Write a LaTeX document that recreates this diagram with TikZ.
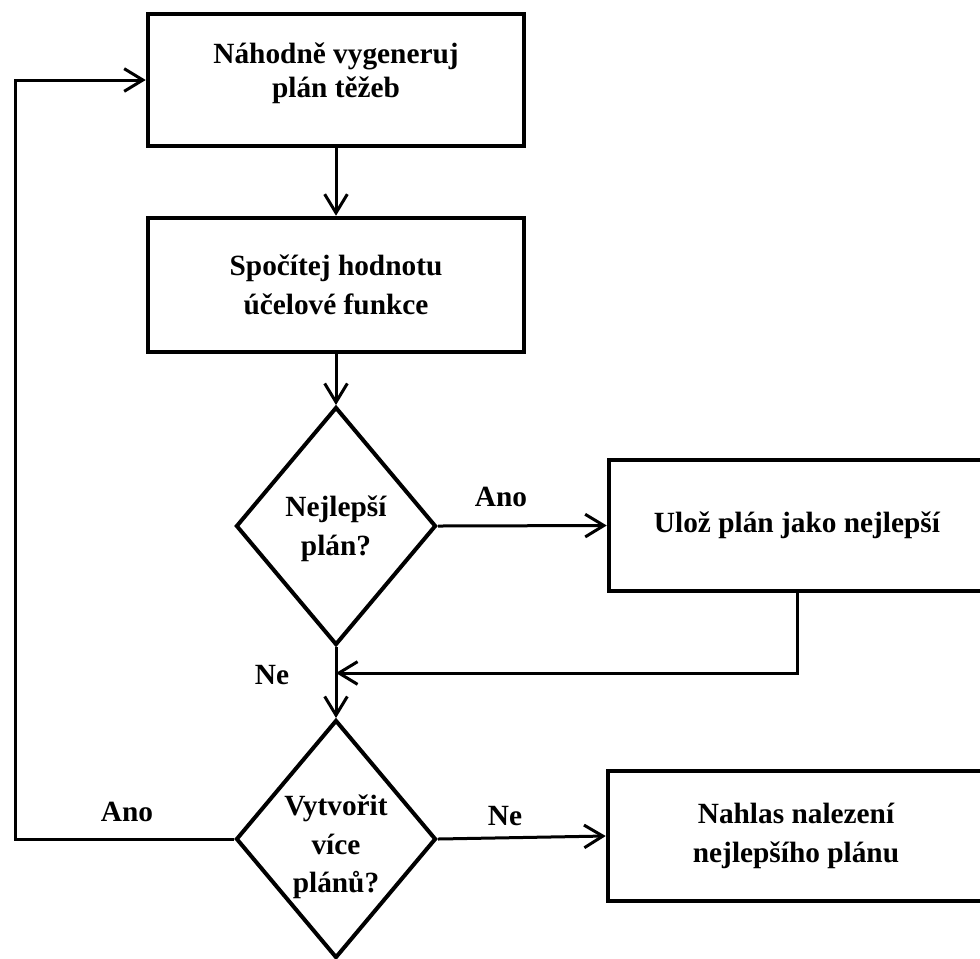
\documentclass[tikz,border=0pt]{standalone}
\usepackage{fontspec}
\setmainfont{Liberation Serif}
\usetikzlibrary{shapes.geometric,arrows.meta}

\begin{document}
\begin{tikzpicture}[x=0.75pt,y=0.75pt,yscale=-1,xscale=1,
  font=\bfseries\fontsize{22}{29}\selectfont,
  box/.style={draw,rectangle,line width=3.4pt,align=center,minimum width=282pt,inner sep=0pt},
  dec/.style={draw,diamond,line width=3pt,minimum width=150pt,minimum height=178.5pt,inner sep=0pt},
  flow/.style={line width=2.25pt,-{Straight Barb[length=14pt,width=17pt]}}]
\useasboundingbox (0,0) rectangle (980,958);

%Shape: Rectangle [generate]
\node[box,minimum height=99pt,font=\bfseries\fontsize{22}{25.5}\selectfont] (gen) at (336,80) {Náhodně vygeneruj\\plán těžeb\\[-10pt]};
%Shape: Rectangle [evaluate]
\node[box,minimum height=100.5pt] (eval) at (336,285) {Spočítej hodnotu\\účelové funkce};
%Shape: Diamond [best?]
\node[dec,label={[align=center,yshift=-2pt]center:{Nejlepší\\plán?}}] (best) at (336,526) {};
%Shape: Rectangle [store]
\node[box,minimum height=98.25pt] (store) at (797,525.5) {Ulož plán jako nejlepší};
%Shape: Diamond [more?]
\node[dec,label={[align=center,yshift=-6pt]center:{Vytvořit\\více\\plánů?}}] (more) at (336,839) {};
%Shape: Rectangle [report]
\node[box,minimum height=97.5pt] (report) at (796,836) {Nahlas nalezení\\nejlepšího plánu};

%Text labels
\node (anoA) at (501,497) {Ano};
\node (neA) at (272,675) {Ne};
\node (anoB) at (127,812) {Ano};
\node (neB) at (505,816) {Ne};

\coordinate (join) at (336,673);
\coordinate (loop) at (15,839);

%Connectors
\draw[flow] (gen) -- (eval);
\draw[flow] (eval) -- (best);
\draw[flow] (best.east) -- (store.west);
\draw[flow] (store.south) |- (join);
\draw[flow] (best.south) -- (more.north);
\draw[flow] (more.east) -- (report.west);
\draw[flow] (more.west) -- (loop) |- (gen.west);

\end{tikzpicture}
\end{document}
